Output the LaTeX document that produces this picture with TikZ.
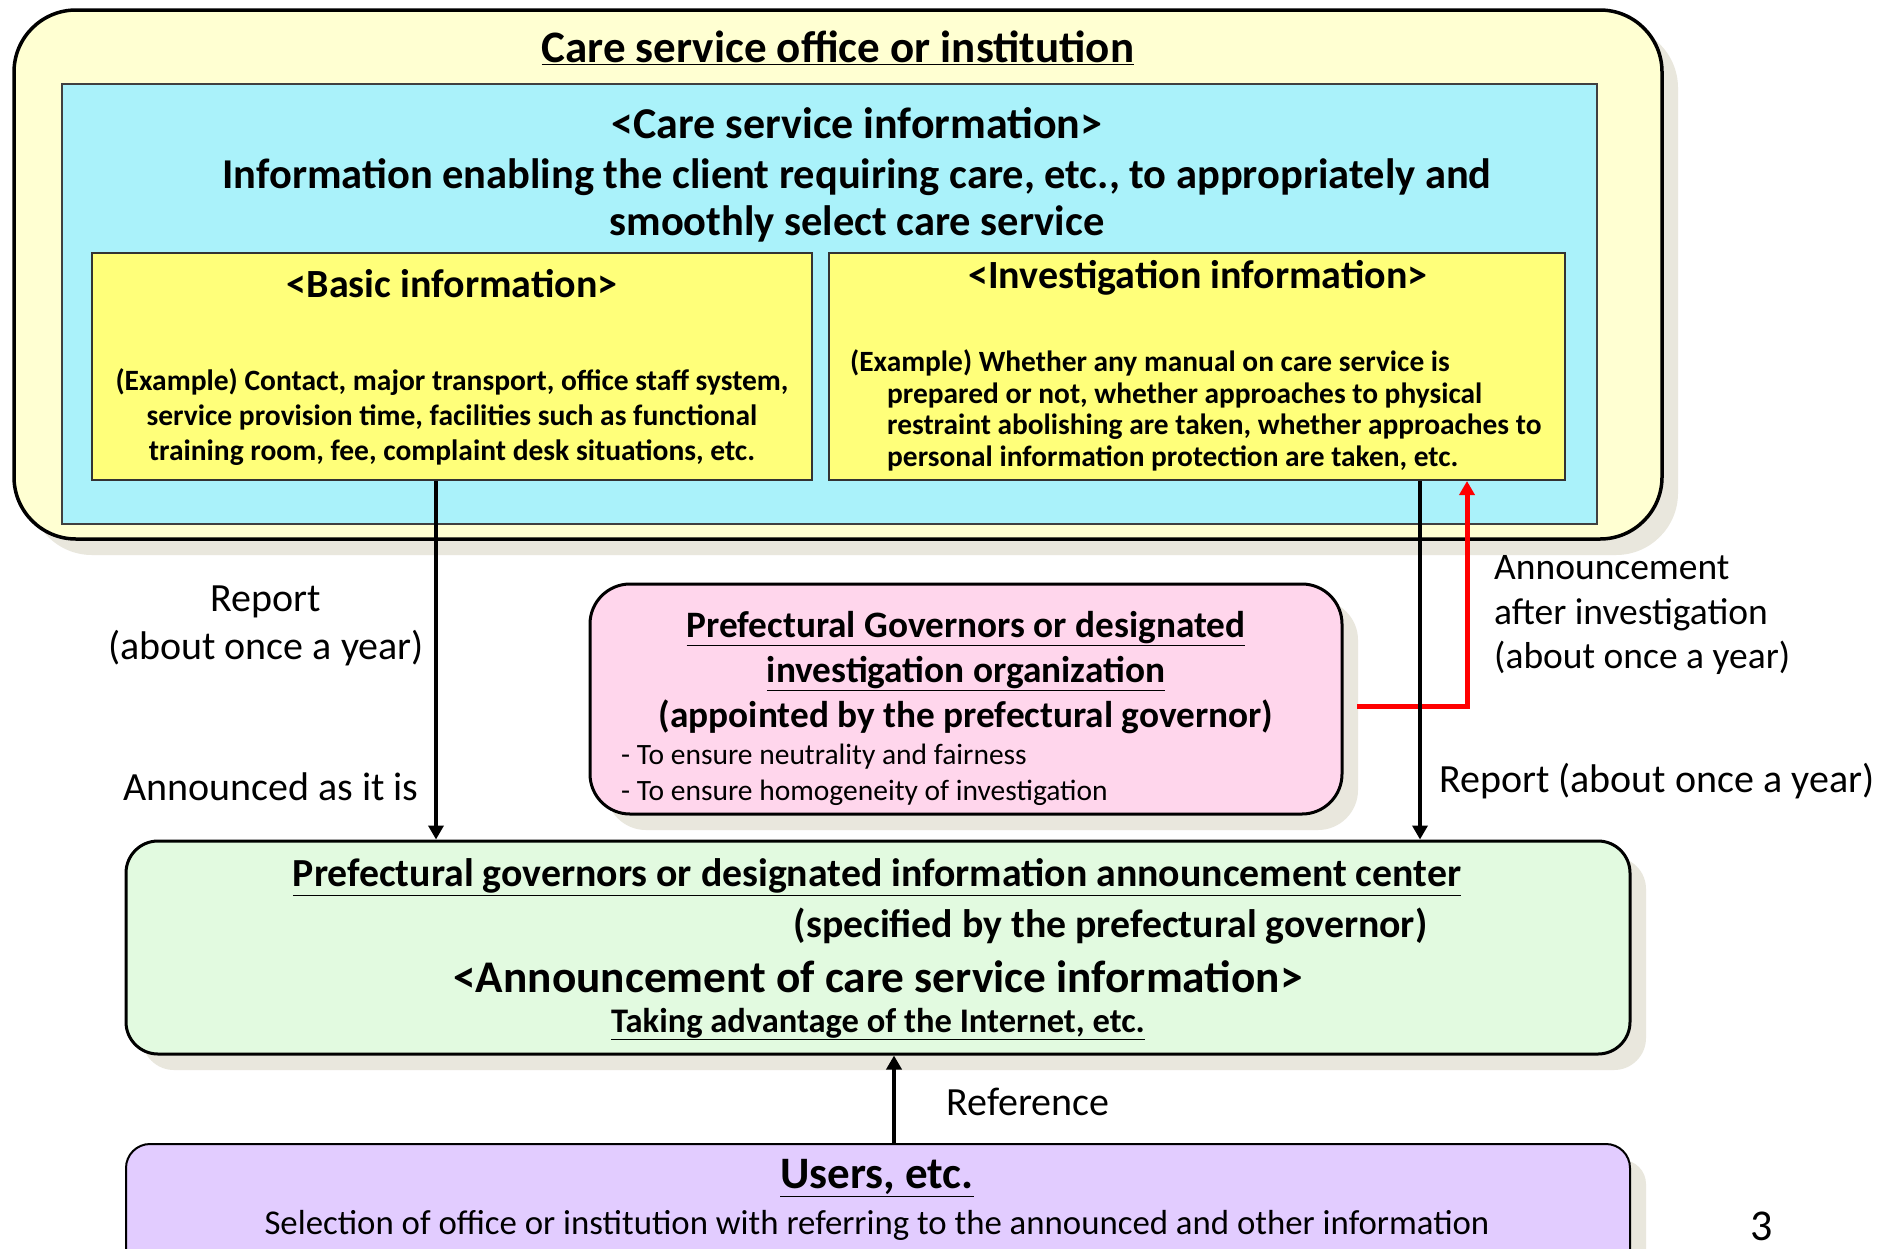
\documentclass[tikz,border=0pt]{standalone}
\usepackage{fontspec}
\setmainfont{Carlito}
\usetikzlibrary{positioning}
\usetikzlibrary{shadows}
\usetikzlibrary{arrows.meta}

\definecolor{officefill}{HTML}{FFFFD2}
\definecolor{infofill}{HTML}{AAF2FA}
\definecolor{examplefill}{HTML}{FFFF7A}
\definecolor{orgfill}{HTML}{FFD6EC}
\definecolor{centerfill}{HTML}{E2FAE0}
\definecolor{userfill}{HTML}{E2CCFF}
\definecolor{shadowgray}{HTML}{E9E7DD}

% font size and line distance in one go
\newcommand{\fsz}[2]{\fontsize{#1}{#2}\selectfont}

\begin{document}
\begin{tikzpicture}[x=1pt, y=-1pt,
                    boxshadow/.style={drop shadow={shadow xshift=16pt, shadow yshift=-16pt, fill=shadowgray, opacity=1}},
                    officebox/.style={draw, line width=3.5pt, rounded corners=62pt, fill=officefill, inner sep=0pt, boxshadow},
                    infobox/.style={draw=black!75, line width=2pt, fill=infofill, inner sep=0pt},
                    examplebox/.style={draw=black!80, line width=2pt, fill=examplefill, inner sep=0pt},
                    orgbox/.style={draw, line width=3pt, rounded corners=40pt, fill=orgfill, inner sep=0pt, boxshadow},
                    centerbox/.style={draw, line width=3pt, rounded corners=32pt, fill=centerfill, inner sep=0pt, boxshadow},
                    userbox/.style={draw, line width=2pt, rounded corners=24pt, fill=userfill, inner sep=0pt, boxshadow},
                    arrow/.style={line width=4.5pt, -{Triangle[width=15pt,length=14pt]}},
                    redarrow/.style={red, line width=5pt, -{Triangle[width=15pt,length=14pt]}},
                    label/.style={inner sep=0pt, font=\fsz{40}{48}},
                ]
    \clip (0,0) rectangle (1879,1248);
    \fill[white] (0,0) rectangle (1879,1248);

    %Boxes
    \node[officebox, minimum width=1648pt, minimum height=529pt] (office) at (838,274.5) {};
    \node[infobox, minimum width=1535pt, minimum height=440pt]    (info)   at (829.5,304) {};
    \node[examplebox, minimum width=720pt, minimum height=227pt]  (basic)  at (452,366.5) {};
    \node[examplebox, minimum width=736pt, minimum height=227pt]  (invest) at (1197,366.5) {};
    \node[orgbox, minimum width=752pt, minimum height=230pt]      (org)    at (966,699) {};
    \node[centerbox, minimum width=1504pt, minimum height=213pt]  (center) at (878,947.5) {};
    \node[userbox, minimum width=1504pt, minimum height=240pt]    (users)  at (878,1264) {};

    %Texts
    \node[font=\bfseries\fsz{45}{52}] (officetitle) at (838,48) {\underline{Care service office or institution}};
    \node[font=\bfseries\fsz{44}{47}] (infotitle) at (857,123) {<Care service information>};
    \node[font=\bfseries\fsz{42.5}{47}, align=center] (infotext) at (857,200)
        {Information enabling the client requiring care, etc., to appropriately and\\smoothly select care service};
    \node[font=\bfseries\fsz{40}{44}] (basictitle) at (452,284) {<Basic information>};
    \node[font=\bfseries\fsz{29.5}{35}, align=center] (basictext) at (452,417)
        {(Example) Contact, major transport, office staff system,\\service provision time, facilities such as functional\\training room, fee, complaint desk situations, etc.};
    \node[font=\bfseries\fsz{40}{44}] (investtitle) at (1198,278) {<Investigation information>};
    \node[font=\bfseries\fsz{29.4}{31.7}, align=left, anchor=west, inner sep=0pt] (investtext) at (850,410.5)
        {(Example) Whether any manual on care service is\\
         \hspace*{37pt}prepared or not, whether approaches to physical\\
         \hspace*{37pt}restraint abolishing are taken, whether approaches to\\
         \hspace*{37pt}personal information protection are taken, etc.};

    \node[font=\bfseries\fsz{37.3}{45}, align=center] (orgtitle) at (966,673)
        {\underline{Prefectural Governors or designated}\\\underline{investigation organization}\\(appointed by the prefectural governor)};
    \node[font=\fsz{29.5}{36}, align=left, anchor=west, inner sep=0pt] (orgpoints) at (621,775)
        {- To ensure neutrality and fairness\\- To ensure homogeneity of investigation};

    \node[font=\bfseries\fsz{39.8}{45}] (centertitle) at (877,877) {\underline{Prefectural governors or designated information announcement center}};
    \node[font=\bfseries\fsz{39.8}{45}, anchor=east] (centernote) at (1431,926) {(specified by the prefectural governor)};
    \node[font=\bfseries\fsz{45.3}{50}] (centerhead) at (878,977) {<Announcement of care service information>};
    \node[font=\bfseries\fsz{34.5}{40}] (centerweb) at (878,1024) {\underline{Taking advantage of the Internet, etc.}};

    \node[font=\bfseries\fsz{45}{50}] (userstitle) at (877,1178) {\underline{Users, etc.}};
    \node[font=\fsz{34.8}{40}] (userstext) at (877,1225) {Selection of office or institution with referring to the announced and other information};

    \node[label, align=center] (reportleft) at (266,626) {Report\\(about once a year)};
    \node[label] (announced) at (271,787) {Announced as it is};
    \node[label, font=\fsz{37.5}{44.5}, align=left, anchor=west] (afterinv) at (1494,615) {Announcement\\after investigation\\(about once a year)};
    \node[label, anchor=west] (reportright) at (1439,781) {Report (about once a year)};
    \node[label] (reference) at (1028,1102) {Reference};
    \node[font=\fsz{44}{48}, anchor=base, inner sep=0pt] (pagenum) at (1762,1240) {3};

    %Lines
    \coordinate (leftline) at (436,0);
    \coordinate (rightline) at (1420,0);
    \coordinate (refline) at (894,0);
    \coordinate (redstart) at (1357,706);
    \coordinate (redturn) at (1467,706);
    \draw[redarrow] (redstart) -- (redturn) -- (redturn |- invest.south);
    \draw[arrow] (basic.south -| leftline) -- (center.north -| leftline);
    \draw[arrow] (invest.south -| rightline) -- (center.north -| rightline);
    \draw[arrow] (users.north -| refline) -- (center.south -| refline);
\end{tikzpicture}
\end{document}
